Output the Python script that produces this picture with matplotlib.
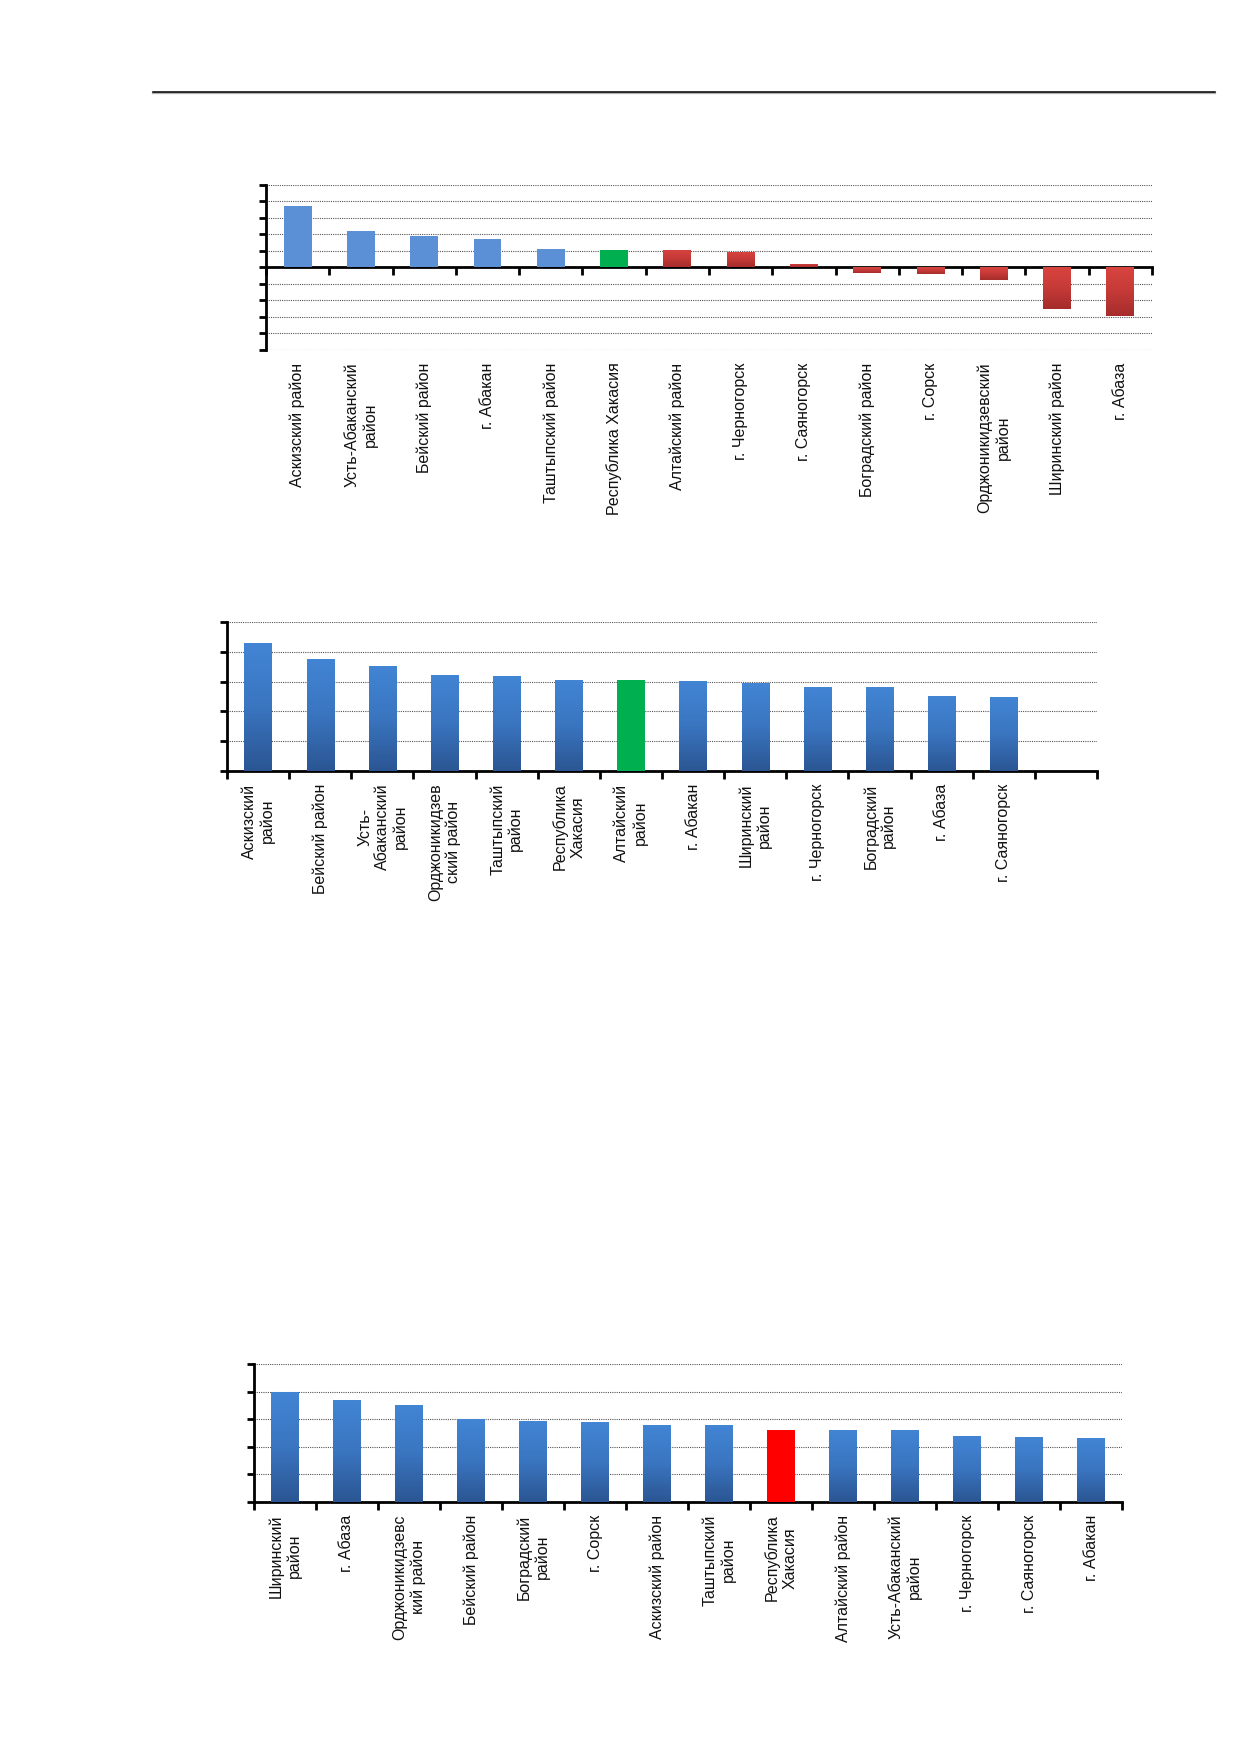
import numpy as np
import matplotlib
matplotlib.use("Agg")
import matplotlib.pyplot as plt
from matplotlib.colors import LinearSegmentedColormap
from matplotlib.lines import Line2D

plt.rcParams['font.family'] = ['Liberation Sans', 'DejaVu Sans']

# chart 1 data
cats1 = ["Аскизский район", "Усть-Абаканский\nрайон", "Бейский район", "г. Абакан",
         "Таштыпский район", "Республика Хакасия", "Алтайский район", "г. Черногорск",
         "г. Саяногорск", "Боградский район", "г. Сорск", "Орджоникидзевский\nрайон",
         "Ширинский район", "г. Абаза"]
vals1 = [3.72, 2.2, 1.9, 1.71, 1.1, 1.06, 1.06, 0.96, 0.22, -0.31, -0.38, -0.76, -2.51, -2.96]
kind1 = ["b", "b", "b", "b", "b", "g", "r", "r", "r", "r", "r", "r", "r", "r"]

# chart 2 data
cats2 = ["Аскизский\nрайон", "Бейский район", "Усть-\nАбаканский\nрайон",
         "Орджоникидзев\nский район", "Таштыпский\nрайон", "Республика\nХакасия",
         "Алтайский\nрайон", "г. Абакан", "Ширинский\nрайон", "г. Черногорск",
         "Боградский\nрайон", "г. Абаза", "г. Саяногорск", ""]
vals2 = [4.29, 3.77, 3.53, 3.23, 3.18, 3.07, 3.07, 3.02, 2.97, 2.81, 2.81, 2.53, 2.47, np.nan]
kind2 = ["b", "b", "b", "b", "b", "b", "g", "b", "b", "b", "b", "b", "b", "b"]

# chart 3 data
cats3 = ["Ширинский\nрайон", "г. Абаза", "Орджоникидзевс\nкий район", "Бейский район",
         "Боградский\nрайон", "г. Сорск", "Аскизский район", "Таштыпский\nрайон",
         "Республика\nХакасия", "Алтайский район", "Усть-Абаканский\nрайон",
         "г. Черногорск", "г. Саяногорск", "г. Абакан"]
vals3 = [3.98, 3.69, 3.51, 3.0, 2.94, 2.88, 2.78, 2.78, 2.62, 2.62, 2.62, 2.4, 2.37, 2.31]
kind3 = ["b", "b", "b", "b", "b", "b", "b", "b", "r", "b", "b", "b", "b", "b"]

grad_blue = LinearSegmentedColormap.from_list("gb", ["#2b5693", "#3a75c0", "#4285d4"])
grad_red = LinearSegmentedColormap.from_list("gr", ["#a52d2b", "#c53a37", "#d9443f"])
flat = {"g": "#00b050", "lb": "#5b8fd6", "red": "#ff0000"}


def gradient_bar(ax, bar, cmap):
    # light on top, dark at the bottom, like the office chart style
    x0, y0 = bar.get_x(), bar.get_y()
    w, h = bar.get_width(), bar.get_height()
    img = np.linspace(0, 1, 64).reshape(-1, 1)
    im = ax.imshow(img, cmap=cmap, aspect="auto", origin="lower",
                   extent=[x0, x0 + w, min(y0, y0 + h), max(y0, y0 + h)], zorder=3)
    im.set_clip_path(bar)
    bar.set_facecolor("none")


def setup(ax, cats, ylo, yhi):
    n = len(cats)
    ax.set_xlim(-0.5, n - 0.5)
    ax.set_ylim(ylo, yhi)
    ax.set_yticks(np.arange(ylo, yhi + 1))
    ax.set_yticklabels([])
    ax.set_xticks(np.arange(n + 1) - 0.5)
    ax.set_xticklabels([])
    for y in range(ylo, yhi + 1):
        if y != 0:
            ax.axhline(y, color="#555555", lw=0.8, ls=(0, (1, 1)), zorder=1)
    for s in ["top", "right"]:
        ax.spines[s].set_visible(False)
    ax.spines["left"].set_linewidth(2)
    ax.spines["bottom"].set_linewidth(2)
    ax.tick_params(axis="y", direction="out", length=5, width=2)
    ax.tick_params(axis="x", direction="out", length=6, width=2)
    for i, c in enumerate(cats):
        ax.annotate(c, xy=(i, 0), xycoords=("data", "axes fraction"),
                    xytext=(0, -9), textcoords="offset points",
                    rotation=90, ha="center", va="top", multialignment="center",
                    fontsize=11.5, color="#111111")


fig = plt.figure(figsize=(12.39, 17.54), dpi=100)
fig.add_artist(Line2D([0.1235, 0.9806], [0.9469, 0.9469], color="#b0b0b0", lw=1.6))
fig.add_artist(Line2D([0.1235, 0.9806], [0.9477, 0.9477], color="black", lw=1.1))

# chart 1
ax1 = fig.add_axes([0.2147, 0.8005, 0.7151, 0.0941])
setup(ax1, cats1, -5, 5)
ax1.spines["bottom"].set_position(("data", 0))
bars = ax1.bar(range(len(vals1)), vals1, width=0.44, zorder=3)
for b, k in zip(bars, kind1):
    if k == "b":
        b.set_facecolor(flat["lb"])
    elif k == "g":
        b.set_facecolor(flat["g"])
    else:
        gradient_bar(ax1, b, grad_red)

# chart 2
ax2 = fig.add_axes([0.1832, 0.5604, 0.7022, 0.0849])
setup(ax2, cats2, 0, 5)
bars = ax2.bar(range(len(vals2)), vals2, width=0.44, zorder=3)
for b, k in zip(bars, kind2):
    if k == "g":
        b.set_facecolor(flat["g"])
    else:
        gradient_bar(ax2, b, grad_blue)

# chart 3
ax3 = fig.add_axes([0.2050, 0.1437, 0.7006, 0.0787])
setup(ax3, cats3, 0, 5)
bars = ax3.bar(range(len(vals3)), vals3, width=0.44, zorder=3)
for b, k in zip(bars, kind3):
    if k == "r":
        b.set_facecolor(flat["red"])
    else:
        gradient_bar(ax3, b, grad_blue)

fig.savefig("out.png", dpi=100)
